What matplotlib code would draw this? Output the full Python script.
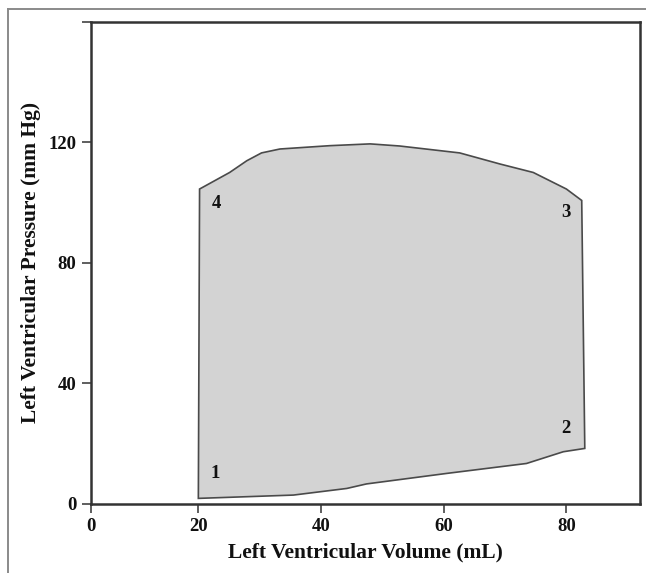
import matplotlib
matplotlib.use("Agg")
import matplotlib.pyplot as plt
from matplotlib.lines import Line2D

# Pressure-volume loop outline (clockwise from bottom-left)
volume = [20.0, 20.2, 25.1, 27.9, 30.3, 33.3, 41.4, 48.0, 52.8, 62.6, 69.2, 74.6,
          80.0, 82.5, 83.0, 79.5, 73.5, 60.5, 47.4, 44.2, 35.5, 20.0]
pressure = [1.7, 104.5, 110.0, 113.9, 116.5, 117.8, 118.9, 119.5, 118.8, 116.5, 112.8, 110.0,
            104.5, 100.7, 18.3, 17.2, 13.3, 10.0, 6.5, 5.0, 2.8, 1.7]

# Corner labels
corner_labels = ["1", "2", "3", "4"]
corner_vol = [22.7, 79.9, 79.9, 22.9]
corner_pres = [10.0, 24.9, 96.8, 99.8]

x_ticks = [2.5, 20, 40, 60, 80]
x_tick_labels = ["0", "20", "40", "60", "80"]
y_ticks = [0, 40, 80, 120, 160]
y_tick_labels = ["0", "40", "80", "120", ""]

plt.rcParams['font.family'] = ['Liberation Serif', 'DejaVu Serif']

fig = plt.figure(figsize=(6.46, 5.73), dpi=100)
ax = fig.add_axes([91/646, 1 - 503.5/573, (640 - 91)/646, (503.5 - 22)/573])

ax.fill(volume, pressure, facecolor="#d3d3d3", edgecolor="#4a4a4a", linewidth=1.2, zorder=2)

for lab, vx, py in zip(corner_labels, corner_vol, corner_pres):
    ax.text(vx, py, lab, fontsize=13.5, fontweight="bold", ha="center", va="center",
            color="#111111", zorder=3)

ax.set_xlim(2.5, 92)
ax.set_ylim(0, 160)
ax.set_xticks(x_ticks)
ax.set_xticklabels(x_tick_labels)
ax.set_yticks(y_ticks)
ax.set_yticklabels(y_tick_labels)
ax.tick_params(axis="both", direction="out", length=6.5, width=1.1, color="#333333",
               labelsize=13.5, pad=4)
for lbl in ax.get_xticklabels() + ax.get_yticklabels():
    lbl.set_fontweight("bold")
    lbl.set_color("#111111")

for sp in ax.spines.values():
    sp.set_color("#333333")
    sp.set_linewidth(1.8)

ax.set_xlabel("Left Ventricular Volume (mL)", fontsize=15.5, fontweight="bold",
              color="#111111", labelpad=5)
ax.set_ylabel("Left Ventricular Pressure (mm Hg)", fontsize=15.5, fontweight="bold",
              color="#111111", labelpad=5)

# outer frame (left and top edges)
x0 = 8/646
y1 = 1 - 8.5/573
fig.add_artist(Line2D([x0, x0], [0, y1], transform=fig.transFigure, color="#8a8a8a", linewidth=1.4))
fig.add_artist(Line2D([x0, 1], [y1, y1], transform=fig.transFigure, color="#8a8a8a", linewidth=1.4))

fig.savefig("out.png", dpi=100, facecolor="white")
